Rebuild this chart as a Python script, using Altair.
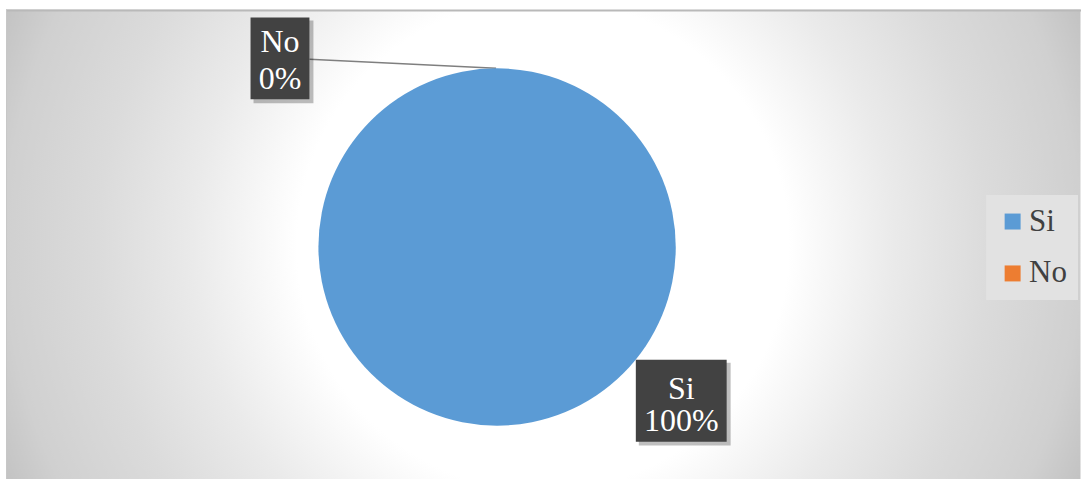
import altair as alt
import pandas as pd

categories = ["Si", "No"]
values = [100, 0]
colors = ["#5B9BD5", "#ED7D31"]

df = pd.DataFrame({"cat": categories, "val": values, "ord": [0, 1]})

W, H = 1077, 471
SERIF = "Liberation Serif"

base = alt.Chart(df).transform_joinaggregate(
    total="sum(val)"
).transform_calculate(
    label="datum.cat + '\\n' + format(datum.val / datum.total, '.0%')"
)

grad = alt.RadialGradient(
    gradient="radial",
    stops=[
        alt.GradientStop(color="#ffffff", offset=0.0),
        alt.GradientStop(color="#ffffff", offset=0.42),
        alt.GradientStop(color="#eaeaea", offset=0.6),
        alt.GradientStop(color="#dbdbdb", offset=0.76),
        alt.GradientStop(color="#d0d0d0", offset=0.92),
        alt.GradientStop(color="#c3c3c3", offset=1.0),
    ],
    x1=0.5, y1=0.5, r1=0, x2=0.5, y2=0.5, r2=0.544,
)

cx, cy = 538, 236
bg = alt.Chart(pd.DataFrame({"a": [0]})).mark_rect(fill=grad, clip=True).encode(
    x=alt.value(cx - 538.5), x2=alt.value(cx + 538.5),
    y=alt.value(cy - 538.5), y2=alt.value(cy + 538.5),
)

border_top = alt.Chart(pd.DataFrame({"a": [0]})).mark_rule(color="#b9b9b9", strokeWidth=2).encode(
    x=alt.value(0), x2=alt.value(W), y=alt.value(1)
)
border_left = alt.Chart(pd.DataFrame({"a": [0]})).mark_rule(color="#c8c8c8", strokeWidth=1).encode(
    x=alt.value(0.5), y=alt.value(0), y2=alt.value(H)
)

pie = base.mark_arc(radius=179).encode(
    theta=alt.Theta("val:Q", stack=True),
    order=alt.Order("ord:Q"),
    color=alt.Color(
        "cat:N",
        scale=alt.Scale(domain=categories, range=colors),
        legend=alt.Legend(
            title=None, orient="none", legendX=982, legendY=186,
            symbolType="square", symbolSize=256, symbolStrokeWidth=0,
            labelFont=SERIF, labelFontSize=31, labelColor="#404040",
            labelOffset=1, rowPadding=20, padding=11,
            fillColor="#e2e2e2",
        ),
    ),
    x=alt.value(492), y=alt.value(238),
)

leader = base.transform_filter("datum.cat == 'No'").mark_rule(color="#7f7f7f", strokeWidth=1.5).encode(
    x=alt.value(304), y=alt.value(50), x2=alt.value(491), y2=alt.value(59)
)

def label_layers(cat, x0, x1, y0, y1, base_y, lh):
    sel = base.transform_filter(f"datum.cat == '{cat}'")
    shadow = sel.mark_rect(fill="#000000", opacity=0.25).encode(
        x=alt.value(x0 + 3), x2=alt.value(x1 + 4), y=alt.value(y0 + 3), y2=alt.value(y1 + 4)
    )
    box = sel.mark_rect(fill="#424242").encode(
        x=alt.value(x0), x2=alt.value(x1), y=alt.value(y0), y2=alt.value(y1)
    )
    txt = sel.mark_text(
        font=SERIF, fontSize=32, color="#ffffff", lineBreak="\n",
        lineHeight=lh, baseline="alphabetic", align="center",
    ).encode(
        text="label:N",
        x=alt.value((x0 + x1) / 2), y=alt.value(base_y),
    )
    return [shadow, box, txt]

layers = [bg, border_top, border_left, leader, pie]
layers += label_layers("No", 245, 304, 8, 90, 43, 37)
layers += label_layers("Si", 631, 722, 351, 433, 390, 32)

chart = alt.layer(*layers).properties(
    width=W, height=H,
    padding={"left": 5, "top": 8, "right": 0, "bottom": 0},
).configure_view(strokeWidth=0)

chart.save("out.html", embed_options={"renderer": "svg", "actions": False})
